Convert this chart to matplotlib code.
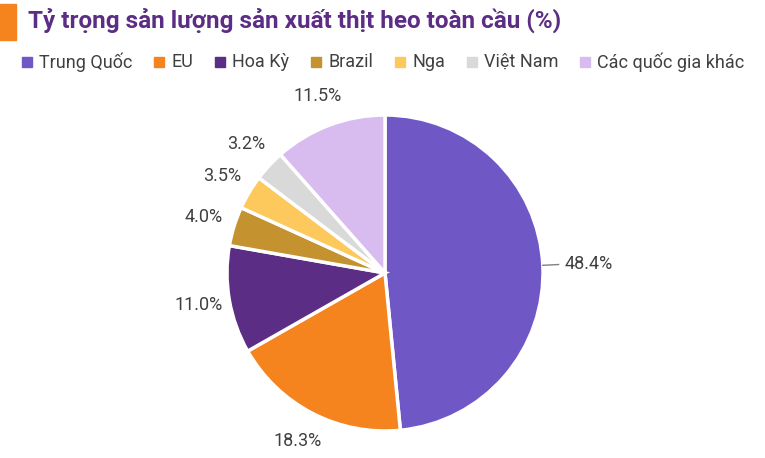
import numpy as np
import matplotlib.pyplot as plt

labels = ["Trung Quốc", "EU", "Hoa Kỳ", "Brazil", "Nga", "Việt Nam", "Các quốc gia khác"]
values = [48.4, 18.3, 11.0, 4.0, 3.5, 3.2, 11.5]
colors = ["#6f58c6", "#f5841f", "#5c2d84", "#c4922f", "#fdc95c", "#d9d9d9", "#d8bbef"]

plt.rcParams['font.family'] = ['Roboto', 'DejaVu Sans']
fig = plt.figure(figsize=(7.65, 4.58), dpi=100)

# title with orange marker
fig.patches.append(plt.Rectangle((0, 1 - 40 / 458), 16 / 765, 36 / 458, transform=fig.transFigure,
                                 color="#f5841f"))
fig.text(28 / 765, 1 - 20 / 458, "Tỷ trọng sản lượng sản xuất thịt heo toàn cầu (%)",
         fontsize=17.5, fontweight="bold", color="#5c2d84", va="center")

# legend row
x = 22
for lab, col in zip(labels, colors):
    fig.patches.append(plt.Rectangle((x / 765, 1 - 67 / 458), 10 / 765, 10 / 458,
                                     transform=fig.transFigure, color=col))
    t = fig.text((x + 17) / 765, 1 - 62 / 458, lab, fontsize=13, color="#404040", va="center")
    fig.canvas.draw()
    w = t.get_window_extent().width
    x += 17 + w + 22

r = 158
cx, cy = 385, 273
ax = fig.add_axes([(cx - r) / 765, (458 - cy - r) / 458, 2 * r / 765, 2 * r / 458])
wedges, _ = ax.pie(values, colors=colors, startangle=90, counterclock=False,
                   wedgeprops=dict(edgecolor="white", linewidth=2.5))
ax.set_aspect("equal")
ax.set_xlim(-1, 1)
ax.set_ylim(-1, 1)

for i, (w, v) in enumerate(zip(wedges, values)):
    ang = np.deg2rad((w.theta1 + w.theta2) / 2)
    ca, sa = np.cos(ang), np.sin(ang)
    if i == 0:
        ax.plot([ca * 1.0, ca * 1.1], [sa * 1.0, sa * 1.1], color="#808080", lw=1, clip_on=False)
        ax.text(ca * 1.14, sa * 1.14, f"{v:.1f}%", ha="left", va="center", fontsize=13, color="#404040")
    else:
        d = 1.2
        ax.text(ca * d, sa * d, f"{v:.1f}%", ha="center", va="center", fontsize=13, color="#404040")

fig.savefig("out.png", dpi=100)
